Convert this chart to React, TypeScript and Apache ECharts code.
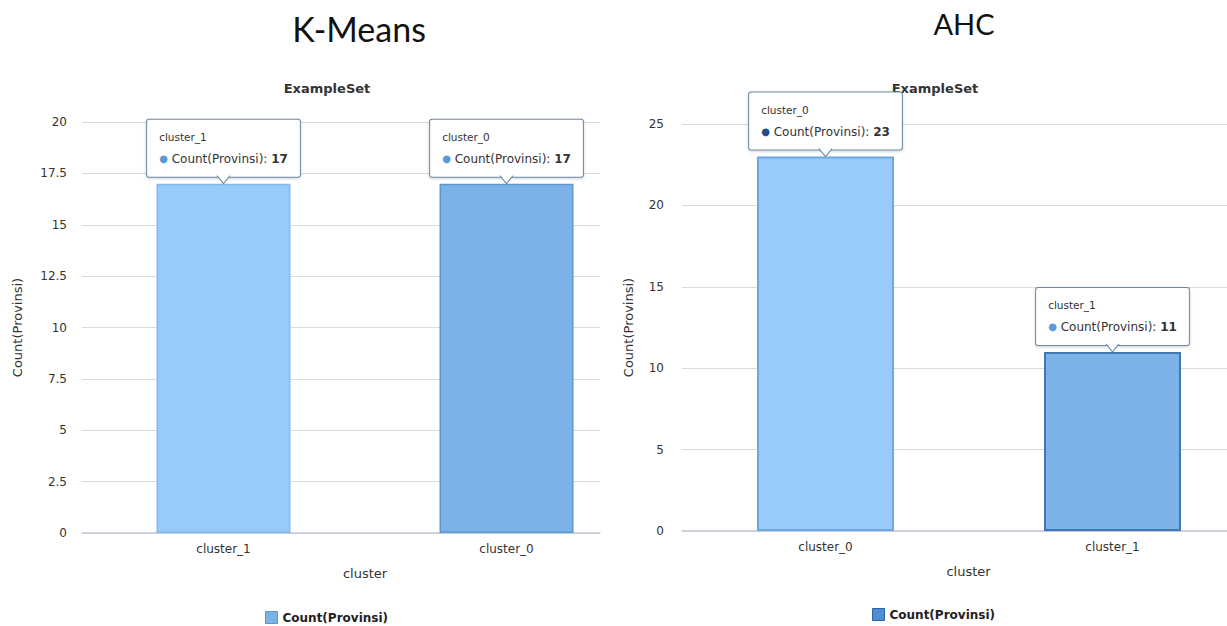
import React, { useEffect, useRef } from "react";
import * as echarts from "echarts";

// Cluster sizes per algorithm
const kmeansClusters = ["cluster_1", "cluster_0"];
const kmeansCounts = [17, 17];
const ahcClusters = ["cluster_0", "cluster_1"];
const ahcCounts = [23, 11];

const measureName = "Count(Provinsi)";
const clusterAxisName = "cluster";
const subtitle = "ExampleSet";

const TITLE_FONT = "Lato, 'Open Sans', sans-serif";
const FONT = "'DejaVu Sans', Verdana, sans-serif";
const TEXT = "#333";

type BarStyle = { fill: string; border: string; borderWidth: number; dot: string };

type Panel = {
  idx: number;
  title: string;
  titleX: number;
  titleY: number;
  titleSize: number;
  subX: number;
  clusters: string[];
  counts: number[];
  yMax: number;
  yInterval: number;
  grid: { left: number; top: number; width: number; height: number };
  xMax: number;
  barWidth: number;
  bars: BarStyle[];
  yLabelMargin: number;
  yNameGap: number;
  xNameShift: number;
  legendPos: { left: number; top: number };
  legendColor: string;
  legendBorder: string;
};

const panels: Panel[] = [
  {
    idx: 0,
    title: "K-Means",
    titleX: 359,
    titleY: 28,
    titleSize: 34,
    subX: 327,
    clusters: kmeansClusters,
    counts: kmeansCounts,
    yMax: 20,
    yInterval: 2.5,
    grid: { left: 82, top: 122, width: 518, height: 411 },
    xMax: 518 / 283,
    barWidth: 134,
    bars: [
      { fill: "#99cbfa", border: "#82b9ee", borderWidth: 1.5, dot: "#5b9bd5" },
      { fill: "#7bb3e9", border: "#5d97d3", borderWidth: 1.5, dot: "#5b9bd5" },
    ],
    yLabelMargin: 15,
    yNameGap: 58,
    xNameShift: 48,
    legendPos: { left: 265, top: 611 },
    legendColor: "#7bb3e9",
    legendBorder: "#5d97d3",
  },
  {
    idx: 1,
    title: "AHC",
    titleX: 964,
    titleY: 23,
    titleSize: 29,
    subX: 935,
    clusters: ahcClusters,
    counts: ahcCounts,
    yMax: 25,
    yInterval: 5,
    grid: { left: 682, top: 124, width: 545, height: 407 },
    xMax: 545 / 287,
    barWidth: 137,
    bars: [
      { fill: "#98cafa", border: "#6ea8e0", borderWidth: 2, dot: "#1f4f8a" },
      { fill: "#7bb3e9", border: "#3f78b5", borderWidth: 2, dot: "#5b9bd5" },
    ],
    yLabelMargin: 18,
    yNameGap: 47,
    xNameShift: 28,
    legendPos: { left: 872, top: 608 },
    legendColor: "#4f8fd3",
    legendBorder: "#2e64a6",
  },
];

function tooltipLabel(name: string, value: number, dot: string) {
  return {
    show: true,
    position: "top",
    distance: 7,
    backgroundColor: "#fff",
    borderColor: "#6b88a3",
    borderWidth: 1,
    borderRadius: 2,
    padding: [7, 12, 6, 12],
    shadowBlur: 3,
    shadowColor: "rgba(0,0,0,0.18)",
    shadowOffsetY: 1,
    formatter: `{t|${name}}\n{d|●} {k|${measureName}: }{v|${value}}`,
    rich: {
      t: { fontFamily: FONT, fontSize: 10.5, color: TEXT, lineHeight: 20, align: "left" },
      d: { fontFamily: FONT, fontSize: 10, color: dot, lineHeight: 24, align: "left" },
      k: { fontFamily: FONT, fontSize: 12, color: TEXT, lineHeight: 24, align: "left" },
      v: { fontFamily: FONT, fontSize: 12, fontWeight: "bold", color: TEXT, lineHeight: 24, align: "left" },
    },
  };
}

function buildPanel(p: Panel) {
  const grid = { ...p.grid, containLabel: false };
  const xAxis = {
    gridIndex: p.idx,
    type: "value",
    min: 0,
    max: p.xMax,
    interval: 0.5,
    name: clusterAxisName,
    nameLocation: "middle",
    nameGap: 34,
    nameTextStyle: {
      fontFamily: FONT,
      fontSize: 13,
      color: TEXT,
      padding: [0, 0, 0, p.xNameShift],
    },
    axisLine: { show: true, lineStyle: { color: "#c5c8d6", width: 1.5 } },
    axisTick: { show: false },
    splitLine: { show: false },
    axisLabel: {
      margin: 10,
      fontFamily: FONT,
      fontSize: 12,
      color: TEXT,
      showMaxLabel: false,
      formatter: (v: number) => {
        const i = v - 0.5;
        return Number.isInteger(i) && p.clusters[i] ? p.clusters[i] : "";
      },
    },
  };
  const yAxis = {
    gridIndex: p.idx,
    type: "value",
    min: 0,
    max: p.yMax,
    interval: p.yInterval,
    name: measureName,
    nameLocation: "middle",
    nameGap: p.yNameGap,
    nameTextStyle: { fontFamily: FONT, fontSize: 13, color: TEXT },
    axisLine: { show: false },
    axisTick: { show: false },
    splitLine: { lineStyle: { color: "#dadada", width: 1 } },
    axisLabel: { margin: p.yLabelMargin, fontFamily: FONT, fontSize: 12, color: TEXT },
  };
  const series = {
    type: "bar",
    name: measureName,
    xAxisIndex: p.idx,
    yAxisIndex: p.idx,
    barWidth: p.barWidth,
    data: p.clusters.map((name, i) => ({
      name,
      value: [i + 0.5, p.counts[i]],
      itemStyle: {
        color: p.bars[i].fill,
        borderColor: p.bars[i].border,
        borderWidth: p.bars[i].borderWidth,
      },
      label: tooltipLabel(name, p.counts[i], p.bars[i].dot),
    })),
    markPoint: {
      silent: true,
      symbol: "path://M0,0L6,7L12,0",
      symbolSize: [13, 8],
      symbolOffset: [0, -4],
      itemStyle: { color: "#fff", borderColor: "#6b88a3", borderWidth: 1 },
      label: { show: false },
      data: p.clusters.map((_, i) => ({ coord: [i + 0.5, p.counts[i]] })),
    },
  };
  const legend = {
    left: p.legendPos.left,
    top: p.legendPos.top,
    padding: 0,
    orient: "horizontal",
    icon: "rect",
    itemWidth: 12,
    itemHeight: 12,
    itemGap: 8,
    selectedMode: false,
    textStyle: { fontFamily: FONT, fontSize: 12, fontWeight: "bold", color: "#222" },
    data: [
      {
        name: measureName,
        itemStyle: { color: p.legendColor, borderColor: p.legendBorder, borderWidth: 1 },
      },
    ],
  };
  const graphic = [
    {
      type: "text",
      x: p.titleX,
      y: p.titleY,
      style: {
        text: p.title,
        fontFamily: TITLE_FONT,
        fontSize: p.titleSize,
        fill: "#111",
        textAlign: "center",
        textVerticalAlign: "middle",
      },
    },
    {
      type: "text",
      x: p.subX,
      y: 88,
      style: {
        text: subtitle,
        fontFamily: FONT,
        fontSize: 13,
        fontWeight: "bold",
        fill: TEXT,
        textAlign: "center",
        textVerticalAlign: "middle",
      },
    },
  ];
  return { grid, xAxis, yAxis, series, legend, graphic };
}

export default function App() {
  const ref = useRef<HTMLDivElement>(null);

  useEffect(() => {
    if (!ref.current) return;
    const chart = echarts.init(ref.current, null, { renderer: "svg" });
    const built = panels.map(buildPanel);
    chart.setOption({
      animation: false,
      backgroundColor: "#fff",
      textStyle: { fontFamily: FONT },
      grid: built.map((b) => b.grid),
      xAxis: built.map((b) => b.xAxis),
      yAxis: built.map((b) => b.yAxis),
      series: built.map((b) => b.series),
      legend: built.map((b) => b.legend),
      graphic: built.flatMap((b) => b.graphic),
    });
    return () => chart.dispose();
  }, []);

  return (
    <div
      ref={ref}
      style={{ position: "absolute", left: 0, top: 0, width: 1227, height: 626, background: "#fff" }}
    />
  );
}
